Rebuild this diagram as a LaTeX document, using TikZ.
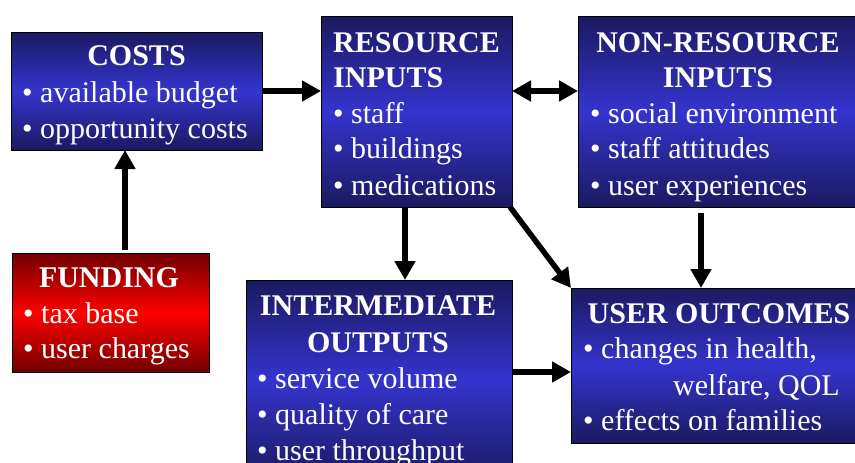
\documentclass[tikz,border=0pt]{standalone}
\usepackage{fontspec}
\setmainfont{Liberation Serif}
\usetikzlibrary{arrows.meta,calc}
\definecolor{navy}{RGB}{26,26,96}
\definecolor{midblue}{RGB}{52,52,206}
\definecolor{darkred}{RGB}{112,0,0}
\definecolor{brightred}{RGB}{255,0,0}
\tikzset{
  box/.style={draw=black, line width=0.8pt, rectangle, inner sep=0pt, outer sep=0pt, anchor=north west},
  bluebox/.style={box, top color=navy, bottom color=navy, middle color=midblue},
  redbox/.style={box, top color=darkred, bottom color=darkred, middle color=brightred},
  ttl/.style={text=white, inner sep=0pt, anchor=base, font=\fontsize{30}{36}\selectfont\bfseries},
  itm/.style={text=white, inner sep=0pt, anchor=base west, font=\fontsize{30}{36}\selectfont},
  ttll/.style={ttl, anchor=base west},
  arr/.style={line width=5.5pt, -{Triangle[width=20pt,length=19pt]}},
  darr/.style={line width=5.5pt, {Triangle[width=20pt,length=19pt]}-{Triangle[width=20pt,length=19pt]}}
}
\begin{document}
\begin{tikzpicture}[x=1pt,y=-1pt]
\path[use as bounding box, fill=white] (0,0) rectangle (855,463);
% boxes
\node[bluebox, minimum width=251pt, minimum height=118pt] (costs) at (11,32) {};
\node[bluebox, minimum width=191pt, minimum height=191pt] (res) at (321,16) {};
\node[bluebox, minimum width=285pt, minimum height=191pt] (nonres) at (578,16) {};
\node[redbox, minimum width=197pt, minimum height=119pt] (fund) at (12,253) {};
\node[bluebox, minimum width=266pt, minimum height=200pt] (inter) at (246,280) {};
\node[bluebox, minimum width=292pt, minimum height=155pt] (user) at (571,288) {};
% texts: costs
\node[ttl] (c0) at (136.5,65) {COSTS};
\node[itm] (c1) at (22,102) {• available budget};
\node[itm] (c2) at (22,138) {• opportunity costs};
% resource inputs
\node[ttll] (r0) at (333,52) {RESOURCE};
\node[ttll] (r1) at (333,87) {INPUTS};
\node[itm] (r2) at (333,123) {• staff};
\node[itm] (r3) at (333,158) {• buildings};
\node[itm] (r4) at (333,195) {• medications};
% non-resource inputs
\node[ttl] (n0) at (718,52) {NON-RESOURCE};
\node[ttl] (n1) at (718,87) {INPUTS};
\node[itm] (n2) at (590,123) {• social environment};
\node[itm] (n3) at (590,158) {• staff attitudes};
\node[itm] (n4) at (590,195) {• user experiences};
% funding
\node[ttl] (f0) at (109,287) {FUNDING};
\node[itm] (f1) at (23,323) {• tax base};
\node[itm] (f2) at (23,358) {• user charges};
% intermediate outputs
\node[ttl] (i0) at (378,315) {INTERMEDIATE};
\node[ttl] (i1) at (378,352) {OUTPUTS};
\node[itm] (i2) at (257,388) {• service volume};
\node[itm] (i3) at (257,424) {• quality of care};
\node[itm] (i4) at (257,460) {• user throughput};
% user outcomes
\node[ttl] (u0) at (719,323) {USER OUTCOMES};
\node[itm] (u1) at (583,358) {• changes in health,};
\node[itm] (u2) at (673,395) {welfare, QOL};
\node[itm] (u3) at (583,430) {• effects on families};
% helper coordinates
\coordinate (xf) at (125,0);
\coordinate (xr) at (405,0);
\coordinate (xn) at (701,0);
\coordinate (yd) at (0,91);
\coordinate (yi) at (0,372);
% connectors
\draw[arr] (costs.east) -- (costs.east -| res.west);
\draw[arr] ([yshift=3pt]fund.north -| xf) -- (costs.south -| xf);
\draw[darr] (res.east |- yd) -- (nonres.west |- yd);
\draw[arr] (res.south -| xr) -- (inter.north -| xr);
\draw[arr] ([xshift=-2pt]res.south east) -- (user.north west);
\draw[arr] ([yshift=-6pt]nonres.south -| xn) -- (user.north -| xn);
\draw[arr] (inter.east |- yi) -- (user.west |- yi);
\end{tikzpicture}
\end{document}
